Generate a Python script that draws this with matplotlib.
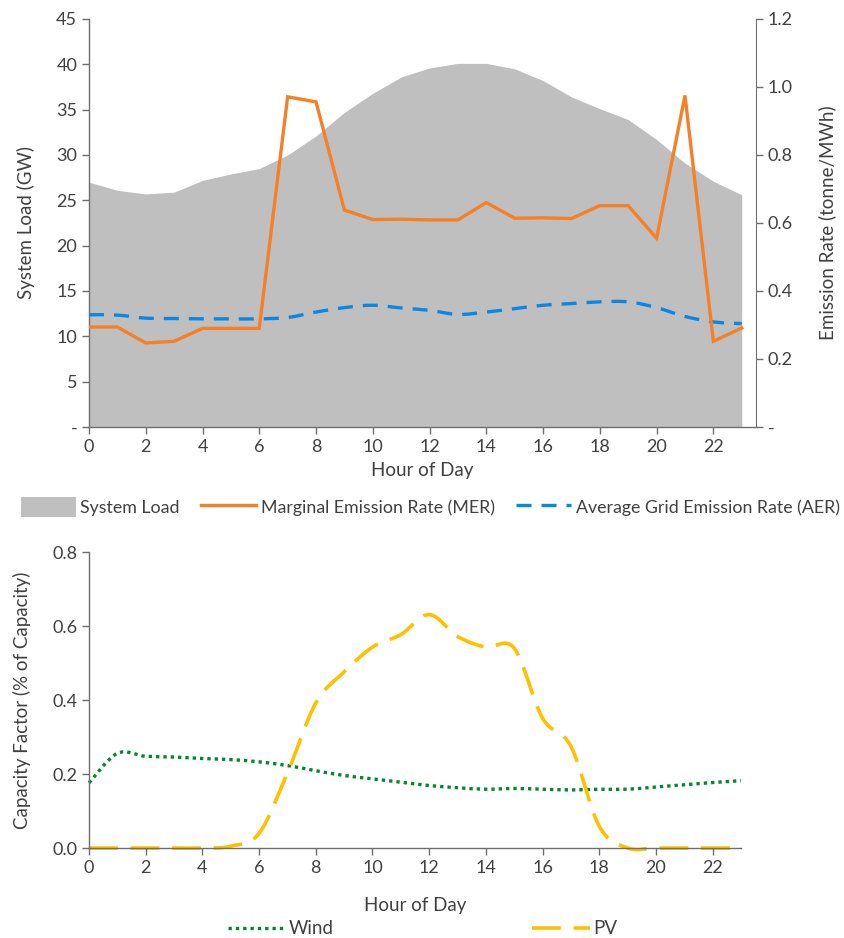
import matplotlib
matplotlib.use("Agg")
import matplotlib.pyplot as plt
import numpy as np
from matplotlib.path import Path
from matplotlib.patches import PathPatch, Patch
from matplotlib.lines import Line2D
from matplotlib.ticker import FuncFormatter

plt.rcParams['font.family'] = ['Lato', 'DejaVu Sans']

# hourly data
hours = list(range(24))
system_load = [27.0, 26.1, 25.7, 25.9, 27.2, 27.9, 28.5, 30.0, 32.1, 34.7, 36.8, 38.6,
               39.6, 40.1, 40.1, 39.5, 38.2, 36.4, 35.1, 33.9, 31.7, 29.1, 27.1, 25.6]
mer = [0.294, 0.294, 0.247, 0.252, 0.290, 0.290, 0.290, 0.971, 0.956, 0.638, 0.610, 0.611,
       0.609, 0.609, 0.660, 0.614, 0.615, 0.613, 0.651, 0.651, 0.555, 0.975, 0.252, 0.291]
aer = [0.330, 0.329, 0.320, 0.319, 0.318, 0.318, 0.318, 0.322, 0.338, 0.351, 0.358, 0.350,
       0.343, 0.331, 0.338, 0.348, 0.358, 0.363, 0.368, 0.368, 0.351, 0.325, 0.309, 0.304]
wind = [0.176, 0.256, 0.248, 0.246, 0.242, 0.239, 0.233, 0.223, 0.209, 0.196, 0.187, 0.178,
        0.169, 0.163, 0.159, 0.161, 0.159, 0.157, 0.159, 0.159, 0.165, 0.171, 0.177, 0.182]
pv = [0.0, 0.0, 0.0, 0.0, 0.0, 0.005, 0.04, 0.203, 0.392, 0.476, 0.543, 0.577,
      0.631, 0.572, 0.543, 0.540, 0.351, 0.275, 0.059, 0.0, 0.0, 0.0, 0.0, 0.0]

TXT = '#404040'
AX = '#6e6e6e'
GRAY = '#bfbfbf'
ORANGE = '#f58025'
BLUE = '#0a86e3'
GREEN = '#00882e'
YELLOW = '#ffc000'


def smooth_path(x, y):
    # Excel style smoothed line: cubic bezier through every point
    x = np.asarray(x, float)
    y = np.asarray(y, float)
    verts = [(x[0], y[0])]
    codes = [Path.MOVETO]
    n = len(x)
    for i in range(n - 1):
        i0, i3 = max(i - 1, 0), min(i + 2, n - 1)
        c1 = (x[i] + (x[i + 1] - x[i0]) / 6, y[i] + (y[i + 1] - y[i0]) / 6)
        c2 = (x[i + 1] - (x[i3] - x[i]) / 6, y[i + 1] - (y[i3] - y[i]) / 6)
        verts += [c1, c2, (x[i + 1], y[i + 1])]
        codes += [Path.CURVE4] * 3
    return Path(verts, codes)


def style_axis(ax):
    for s in ['top', 'right']:
        ax.spines[s].set_visible(False)
    for s in ['left', 'bottom', 'right']:
        ax.spines[s].set_color(AX)
        ax.spines[s].set_linewidth(1.0)
    ax.tick_params(direction='out', length=5, width=1, color=AX, labelcolor=TXT, labelsize=13)


fig = plt.figure(figsize=(8.45, 9.38), dpi=100)

# ---- top chart: load + emission rates
ax1 = fig.add_axes([0.1053, 0.5448, 0.7893, 0.435])
style_axis(ax1)
ax1.fill_between(hours, system_load, 0, color=GRAY, lw=0)
ax1.set_xlim(0, 23.5)
ax1.set_ylim(0, 45)
ax1.set_yticks(range(0, 46, 5))
ax1.yaxis.set_major_formatter(FuncFormatter(lambda v, p: '-' if v == 0 else f'{v:.0f}'))
ax1.set_xticks(range(0, 23, 2))
ax1.set_ylabel('System Load (GW)', fontsize=13.5, color=TXT, labelpad=15)
ax1.set_xlabel('Hour of Day', fontsize=13.5, color=TXT, labelpad=5)

ax2 = ax1.twinx()
ax2.spines['top'].set_visible(False)
ax2.spines['left'].set_visible(False)
ax2.spines['bottom'].set_visible(False)
ax2.spines['right'].set_color(AX)
ax2.tick_params(direction='out', length=5, width=1, color=AX, labelcolor=TXT, labelsize=13)
ax2.set_ylim(0, 1.2)
ax2.set_yticks(np.arange(0, 1.21, 0.2))
ax2.yaxis.set_major_formatter(FuncFormatter(lambda v, p: '-' if abs(v) < 1e-9 else f'{v:.1f}'))
ax2.plot(hours, mer, color=ORANGE, lw=2.4, solid_joinstyle='miter')
ax2.add_patch(PathPatch(smooth_path(hours, aer), fill=False, edgecolor=BLUE, lw=2.4,
                        linestyle=(0, (4.5, 3))))
ax2.set_ylabel('Emission Rate (tonne/MWh)', fontsize=13.5, color=TXT, labelpad=18)

h_top = [Patch(facecolor=GRAY, edgecolor='none'),
         Line2D([], [], color=ORANGE, lw=2.4),
         Line2D([], [], color=BLUE, lw=2.4, linestyle=(0, (4.5, 3)))]
fig.legend(h_top, ['System Load', 'Marginal Emission Rate (MER)', 'Average Grid Emission Rate (AER)'],
           loc='center', bbox_to_anchor=(0.509, 0.4595), ncol=3, frameon=False, fontsize=12.8,
           labelcolor=TXT, handlelength=3.1, handleheight=1.3, handletextpad=0.25,
           columnspacing=1.2, borderpad=0, borderaxespad=0)

# ---- bottom chart: capacity factors
ax3 = fig.add_axes([0.1053, 0.0959, 0.7716, 0.3156])
style_axis(ax3)
ax3.spines['right'].set_visible(False)
ax3.set_xlim(0, 23)
ax3.set_ylim(0, 0.8)
ax3.set_yticks(np.arange(0, 0.81, 0.2))
ax3.yaxis.set_major_formatter(FuncFormatter(lambda v, p: f'{v:.1f}'))
ax3.set_xticks(range(0, 23, 2))
ax3.add_patch(PathPatch(smooth_path(hours, wind), fill=False, edgecolor=GREEN, lw=2.4,
                        linestyle=(0, (1, 1.2)), clip_on=False))
ax3.add_patch(PathPatch(smooth_path(hours, pv), fill=False, edgecolor=YELLOW, lw=2.6,
                        linestyle=(0, (8, 3.5)), clip_on=False))
ax3.set_ylabel('Capacity Factor (% of Capacity)', fontsize=13.5, color=TXT, labelpad=15)
ax3.set_xlabel('Hour of Day', fontsize=13.5, color=TXT, labelpad=15)

h_bot = [Line2D([], [], color=GREEN, lw=2.4, linestyle=(0, (1, 1.2))),
         Line2D([], [], color=YELLOW, lw=2.6, linestyle=(0, (8, 3.5)))]
fig.legend(h_bot, ['Wind', 'PV'], loc='center', bbox_to_anchor=(0.5, 0.0096), ncol=2,
           frameon=False, fontsize=13.5, labelcolor=TXT, handlelength=3.1, handletextpad=0.15,
           columnspacing=10.6, borderpad=0, borderaxespad=0)

fig.savefig('out.png', dpi=100)
